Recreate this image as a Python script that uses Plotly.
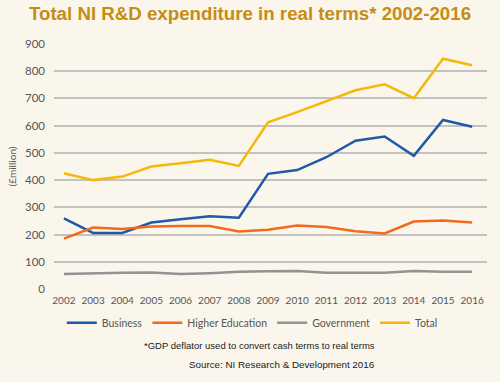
import plotly.graph_objects as go

years = list(range(2002, 2017))
business = [259, 206, 206, 244, 256, 267, 262, 423, 437, 484, 545, 560, 489, 621, 596]
higher_education = [185, 226, 220, 230, 231, 231, 211, 218, 233, 228, 212, 204, 248, 252, 244]
government = [55, 58, 60, 61, 55, 58, 63, 65, 66, 60, 60, 60, 66, 63, 63]
total = [425, 400, 413, 450, 462, 475, 452, 612, 650, 690, 730, 752, 701, 846, 822]
y_ticks = [0, 100, 200, 300, 400, 500, 600, 700, 800, 900]

series = [
    ("Business", business, "#1F5AA8"),
    ("Higher Education", higher_education, "#F26B1D"),
    ("Government", government, "#939393"),
    ("Total", total, "#F5B80A"),
]

fig = go.Figure()
for name, vals, col in series:
    fig.add_trace(go.Scatter(x=years, y=vals, mode="lines", name=name,
                             line=dict(color=col, width=2.5)))

bg = "#FBF6EC"
fig.update_layout(
    width=500, height=382,
    paper_bgcolor=bg, plot_bgcolor=bg,
    margin=dict(l=50, r=13, t=44, b=93),
    title=dict(text="<b>Total NI R&amp;D expenditure in real terms* 2002-2016</b>",
               x=0.5, xanchor="center", y=0.965, yanchor="middle",
               font=dict(family="Liberation Sans, Arial", size=18.7, color="#C68C14")),
    xaxis=dict(range=[2001.66, 2016.51], tickmode="array", tickvals=years,
               showgrid=False, zeroline=False, showline=False, ticks="",
               ticklabelstandoff=4,
               tickfont=dict(family="Lato", size=10, color="#555555")),
    yaxis=dict(range=[0, 900], tickvals=y_ticks, showgrid=True,
               gridcolor="#C2C2C2", gridwidth=1.5, zeroline=False,
               ticks="", ticklen=0, ticklabelstandoff=8,
               tickfont=dict(family="Lato", size=11.5, color="#555555"),
               title=dict(text="(£million)", standoff=6,
                          font=dict(family="Lato", size=10, color="#555555"))),
    legend=dict(orientation="h", x=0.458, xanchor="center", y=-0.138, yanchor="middle",
                font=dict(family="Lato", size=10.5, color="#555555"),
                itemwidth=30, bgcolor="rgba(0,0,0,0)"),
    showlegend=True,
    annotations=[
        dict(text="*GDP deflator used to convert cash terms to real terms",
             xref="paper", yref="paper", x=0.475, y=-0.23, xanchor="center",
             yanchor="middle", showarrow=False,
             font=dict(family="Liberation Sans", size=9.5, color="#1A1A1A")),
        dict(text="Source: NI Research &amp; Development 2016",
             xref="paper", yref="paper", x=0.527, y=-0.309, xanchor="center",
             yanchor="middle", showarrow=False,
             font=dict(family="Liberation Sans", size=9.8, color="#1A1A1A")),
    ],
)

fig.write_html("out.html", config={"displayModeBar": False},
               post_script="document.body.style.margin='0';document.body.style.background='#FBF6EC';")
